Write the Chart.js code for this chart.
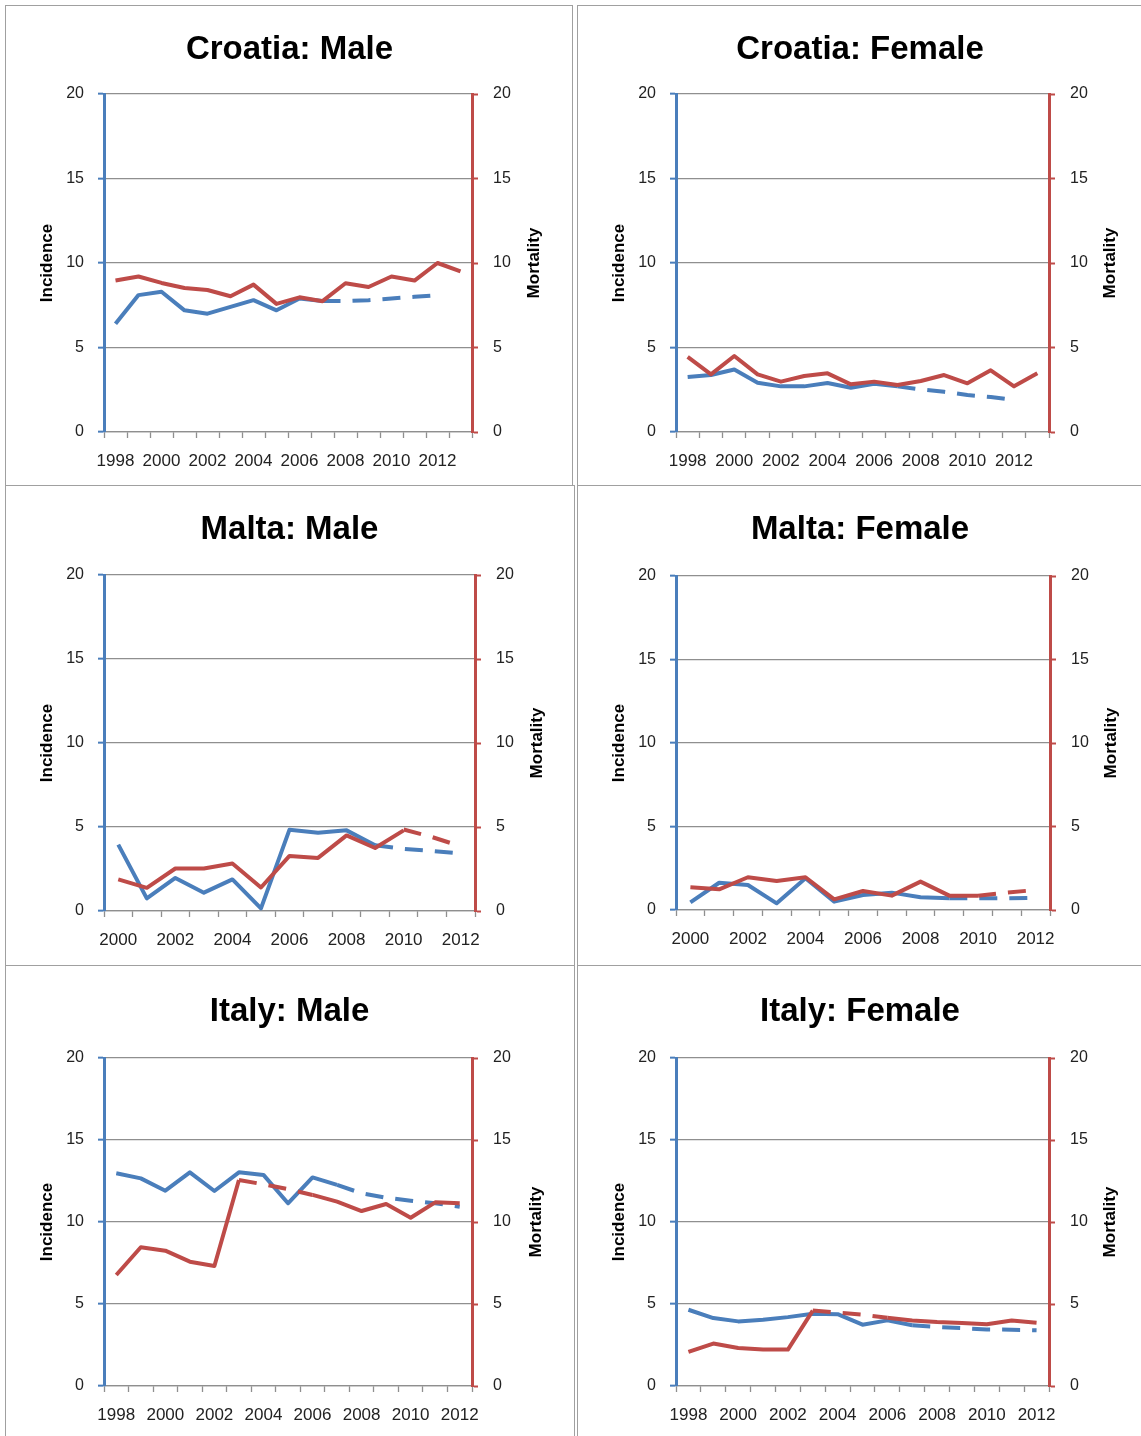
<!DOCTYPE html>
<html>
<head>
<meta charset="utf-8">
<script src="https://cdn.jsdelivr.net/npm/chart.js@4.4.0/dist/chart.umd.min.js"></script>
<style>
body { margin: 0; background: #fff; }
.panel { position: absolute; border: 1px solid #a0a0a0; box-sizing: border-box; }
canvas { position: absolute; }
</style>
</head>
<body>
<div class="panel" style="left:5px;top:5px;width:568px;height:481px"></div>
<div class="panel" style="left:577px;top:5px;width:570px;height:481px"></div>
<div class="panel" style="left:5px;top:485px;width:570px;height:481px"></div>
<div class="panel" style="left:577px;top:485px;width:570px;height:481px"></div>
<div class="panel" style="left:5px;top:965px;width:570px;height:480px"></div>
<div class="panel" style="left:577px;top:965px;width:570px;height:480px"></div>

<canvas id="croatiaMale" width="565" height="478" style="left:7px;top:7px"></canvas>
<canvas id="croatiaFemale" width="562" height="478" style="left:579px;top:7px"></canvas>
<canvas id="maltaMale" width="565" height="477" style="left:7px;top:488px"></canvas>
<canvas id="maltaFemale" width="562" height="477" style="left:579px;top:488px"></canvas>
<canvas id="italyMale" width="565" height="468" style="left:7px;top:968px"></canvas>
<canvas id="italyFemale" width="562" height="468" style="left:579px;top:968px"></canvas>

<script>
// categories
const yearsCroatia = ['1998','1999','2000','2001','2002','2003','2004','2005','2006','2007','2008','2009','2010','2011','2012','2013'];
const yearsMalta = ['2000','2001','2002','2003','2004','2005','2006','2007','2008','2009','2010','2011','2012'];
const yearsItaly = ['1998','1999','2000','2001','2002','2003','2004','2005','2006','2007','2008','2009','2010','2011','2012'];

// Croatia
const croatiaMaleInc = [6.4, 8.1, 8.3, 7.2, 7.0, 7.4, 7.8, 7.2, 7.9, 7.75, null, null, null, null, null, null];
const croatiaMaleIncTrend = [null, null, null, null, null, null, null, null, null, 7.75, 7.75, 7.8, 7.9, 8.0, 8.1, null];
const croatiaMaleMort = [8.96, 9.2, 8.82, 8.52, 8.4, 8.03, 8.72, 7.58, 7.97, 7.74, 8.8, 8.58, 9.2, 8.96, 10.0, 9.5];
const croatiaMaleMortTrend = [];

const croatiaFemaleInc = [3.25, 3.37, 3.7, 2.92, 2.7, 2.7, 2.9, 2.62, 2.86, 2.7, null, null, null, null, null, null];
const croatiaFemaleIncTrend = [null, null, null, null, null, null, null, null, null, 2.7, 2.52, 2.38, 2.19, 2.07, 1.89, null];
const croatiaFemaleMort = [4.44, 3.41, 4.5, 3.41, 2.98, 3.31, 3.47, 2.82, 2.98, 2.78, 3.02, 3.37, 2.88, 3.65, 2.7, 3.47];
const croatiaFemaleMortTrend = [];

// Malta
const maltaMaleInc = [3.95, 0.75, 1.97, 1.09, 1.88, 0.16, 4.84, 4.66, 4.8, 3.91, null, null, null];
const maltaMaleIncTrend = [null, null, null, null, null, null, null, null, null, 3.91, 3.7, 3.57, 3.42];
const maltaMaleMort = [1.88, 1.38, 2.53, 2.53, 2.83, 1.4, 3.28, 3.16, 4.5, 3.75, 4.8, null, null];
const maltaMaleMortTrend = [null, null, null, null, null, null, null, null, null, null, 4.85, 4.4, 3.85];

const maltaFemaleInc = [0.46, 1.63, 1.5, 0.4, 1.9, 0.5, 0.9, 1.04, 0.76, 0.7, null, null, null];
const maltaFemaleIncTrend = [null, null, null, null, null, null, null, null, null, 0.7, 0.7, 0.7, 0.73];
const maltaFemaleMort = [1.36, 1.24, 1.96, 1.74, 1.96, 0.64, 1.14, 0.86, 1.7, 0.86, 0.86, null, null];
const maltaFemaleMortTrend = [null, null, null, null, null, null, null, null, null, null, 0.86, 1.04, 1.2];

// Italy
const italyMaleInc = [12.97, 12.66, 11.91, 13.03, 11.89, 13.03, 12.87, 11.14, 12.72, 12.26, null, null, null, null, null];
const italyMaleIncTrend = [null, null, null, null, null, null, null, null, null, 12.26, 11.75, 11.48, 11.3, 11.14, 10.93];
const italyMaleMort = [6.77, 8.46, 8.25, 7.58, 7.32, 12.56, null, null, 11.65, 11.24, 10.67, 11.1, 10.26, 11.2, 11.14];
const italyMaleMortTrend = [null, null, null, null, null, 12.56, 12.3, 12.0, 11.65, null, null, null, null, null, null];

const italyFemaleInc = [4.65, 4.14, 3.94, 4.04, 4.2, 4.4, 4.38, 3.74, 4.0, 3.7, null, null, null, null, null];
const italyFemaleIncTrend = [null, null, null, null, null, null, null, null, null, 3.7, 3.6, 3.53, 3.45, 3.43, 3.4];
const italyFemaleMort = [2.08, 2.59, 2.32, 2.22, 2.22, 4.6, null, null, 4.16, 4.0, 3.9, 3.84, 3.76, 4.0, 3.86];
const italyFemaleMortTrend = [null, null, null, null, null, 4.6, 4.47, 4.35, 4.16, null, null, null, null, null, null];

const BLUE = '#4A7EBB';
const RED = '#BE4B48';
const GRID = '#8f8f8f';
const FONT = "'Liberation Sans', Arial, sans-serif";

// right axis title, reads bottom to top like the left one
const mortalityTitle = {
    id: 'mortalityTitle',
    afterDraw(chart, args, opts) {
        const {ctx, chartArea} = chart;
        ctx.save();
        ctx.translate(chartArea.right + opts.gap, (chartArea.top + chartArea.bottom) / 2);
        ctx.rotate(-Math.PI / 2);
        ctx.font = 'bold 17px ' + FONT;
        ctx.fillStyle = '#000';
        ctx.textAlign = 'center';
        ctx.textBaseline = 'middle';
        ctx.fillText(opts.text, 0, 0);
        ctx.restore();
    }
};

function line(label, data, color, axis, dashed) {
    return {
        label: label,
        data: data,
        yAxisID: axis,
        borderColor: color,
        backgroundColor: color,
        borderWidth: 4,
        borderDash: dashed ? [18, 12] : [],
        borderCapStyle: 'butt',
        borderJoinStyle: 'round',
        pointRadius: 0,
        tension: 0,
        spanGaps: false,
        fill: false
    };
}

function drawPanel(id, title, labels, inc, incTrend, mort, mortTrend, box) {
    const canvas = document.getElementById(id);
    const w = canvas.width, h = canvas.height;
    new Chart(canvas, {
        type: 'line',
        data: {
            labels: labels,
            datasets: [
                line('Mortality', mort, RED, 'y1', false),
                line('Mortality trend', mortTrend, RED, 'y1', true),
                line('Incidence', inc, BLUE, 'y', false),
                line('Incidence trend', incTrend, BLUE, 'y', true)
            ]
        },
        plugins: [mortalityTitle],
        options: {
            responsive: false,
            devicePixelRatio: 1,
            animation: false,
            layout: { padding: 0 },
            plugins: {
                legend: { display: false },
                tooltip: { enabled: false },
                title: {
                    display: true,
                    text: title,
                    color: '#000',
                    font: { family: FONT, size: 33, weight: 'bold' },
                    padding: { top: box.titleY - 19.8, bottom: box.plotTop - box.titleY - 19.8 }
                },
                mortalityTitle: { text: 'Mortality', gap: box.mortGap }
            },
            scales: {
                x: {
                    offset: true,
                    grid: { offset: true, drawOnChartArea: false, tickLength: 6, tickColor: GRID, tickWidth: 1.3 },
                    border: { color: GRID, width: 1.3 },
                    ticks: {
                        autoSkip: false,
                        maxRotation: 0,
                        padding: 13,
                        color: '#222',
                        font: { family: FONT, size: 17 },
                        callback: function (v, i) { return i % 2 === 0 ? this.getLabelForValue(v) : ''; }
                    },
                    afterFit: s => { s.height = h - box.plotBottom; }
                },
                y: {
                    position: 'left',
                    min: 0,
                    max: 20,
                    ticks: { stepSize: 5, padding: 14, color: '#222', font: { family: FONT, size: 16 } },
                    grid: { color: GRID, lineWidth: 1.3, tickLength: 6, tickColor: BLUE, tickWidth: 2 },
                    border: { color: BLUE, width: 3 },
                    title: {
                        display: true,
                        text: 'Incidence',
                        color: '#000',
                        font: { family: FONT, size: 17, weight: 'bold' },
                        padding: { top: 30, bottom: 0 }
                    },
                    afterFit: s => { s.width = 97; }
                },
                y1: {
                    position: 'right',
                    min: 0,
                    max: 20,
                    ticks: { stepSize: 5, padding: 15, color: '#222', font: { family: FONT, size: 16 } },
                    grid: { drawOnChartArea: false, tickLength: 6, tickColor: RED, tickWidth: 2 },
                    border: { color: RED, width: 3 },
                    afterFit: s => { s.width = w - box.plotRight; }
                }
            }
        }
    });
}

drawPanel('croatiaMale', 'Croatia: Male', yearsCroatia, croatiaMaleInc, croatiaMaleIncTrend, croatiaMaleMort, croatiaMaleMortTrend,
    { titleY: 43, plotTop: 87, plotBottom: 425, plotRight: 465, mortGap: 62 });
drawPanel('croatiaFemale', 'Croatia: Female', yearsCroatia, croatiaFemaleInc, croatiaFemaleIncTrend, croatiaFemaleMort, croatiaFemaleMortTrend,
    { titleY: 43, plotTop: 87, plotBottom: 425, plotRight: 470, mortGap: 61 });
drawPanel('maltaMale', 'Malta: Male', yearsMalta, maltaMaleInc, maltaMaleIncTrend, maltaMaleMort, maltaMaleMortTrend,
    { titleY: 42, plotTop: 87, plotBottom: 423, plotRight: 468, mortGap: 62 });
drawPanel('maltaFemale', 'Malta: Female', yearsMalta, maltaFemaleInc, maltaFemaleIncTrend, maltaFemaleMort, maltaFemaleMortTrend,
    { titleY: 42, plotTop: 88, plotBottom: 422, plotRight: 471, mortGap: 61 });
drawPanel('italyMale', 'Italy: Male', yearsItaly, italyMaleInc, italyMaleIncTrend, italyMaleMort, italyMaleMortTrend,
    { titleY: 44, plotTop: 90, plotBottom: 418, plotRight: 465, mortGap: 64 });
drawPanel('italyFemale', 'Italy: Female', yearsItaly, italyFemaleInc, italyFemaleIncTrend, italyFemaleMort, italyFemaleMortTrend,
    { titleY: 44, plotTop: 90, plotBottom: 418, plotRight: 470, mortGap: 61 });
</script>
</body>
</html>
